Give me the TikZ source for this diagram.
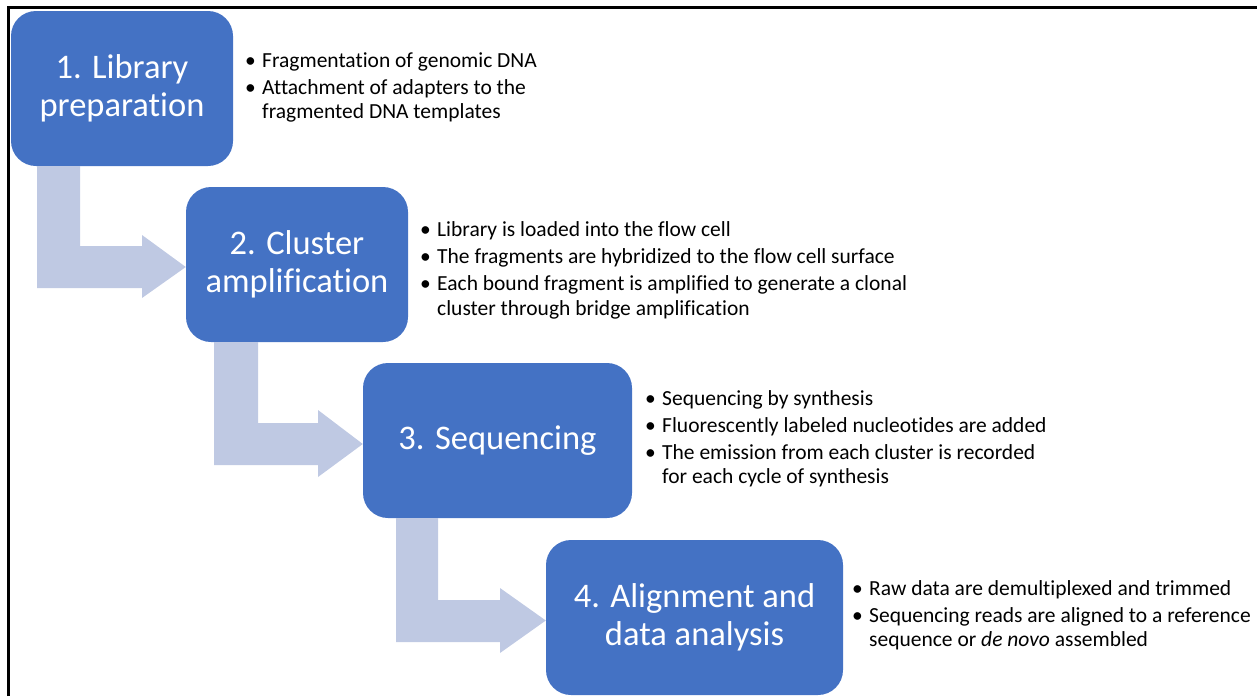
\documentclass[tikz,border=0pt]{standalone}
\usepackage{fontspec}
\setmainfont{Carlito}[Ligatures={NoCommon}]
\usetikzlibrary{calc}
\definecolor{boxblue}{RGB}{68,114,196}
\definecolor{arrowblue}{RGB}{191,201,227}
\newcommand{\bitem}[1]{\par\hangindent=17pt\hangafter=1\noindent\makebox[17pt][l]{\textbullet}#1\par}
\newcommand{\blist}[1]{\parbox[t]{600pt}{\setlength{\parskip}{2.5pt}\raggedright #1}}
\tikzset{
  stepbox/.style={fill=boxblue, rounded corners=25pt, minimum width=222pt, minimum height=155pt,
    text=white, font=\fontsize{34.5}{38}\selectfont, align=center, inner sep=0pt},
  bullets/.style={anchor=base west, inner sep=0pt, text=black, font=\fontsize{21.5}{24.5}\selectfont},
  bentarrow/.style={fill=arrowblue},
  frameline/.style={line width=2.7pt, black}
}
\begin{document}
\begin{tikzpicture}[x=1pt,y=-1pt]
\useasboundingbox (0,0) rectangle (1257,696);
\draw[frameline] (8.7,696) -- (8.7,7.8) -- (1257,7.8);

\node[stepbox] (b1) at (122,88.5) {1. Library\\preparation};
\node[stepbox] (b2) at (297,264.5) {2. Cluster\\amplification};
\node[stepbox, minimum width=269pt] (b3) at (497.5,440.5) {3. Sequencing};
\node[stepbox, minimum width=297pt] (b4) at (694.5,617.5) {4. Alignment and\\data analysis};

\fill[bentarrow] (37,0 |- b1.south) -- (80,0 |- b1.south) -- (80,246) -- (142,246) -- (142,235)
  -- (b2.west |- 0,267) -- (142,298) -- (142,288) -- (37,288) -- cycle;
\fill[bentarrow] (214,0 |- b2.south) -- (258,0 |- b2.south) -- (258,423) -- (318,423) -- (318,410)
  -- (b3.west |- 0,444) -- (318,477) -- (318,465) -- (214,465) -- cycle;
\fill[bentarrow] (396,0 |- b3.south) -- (438,0 |- b3.south) -- (438,600) -- (500,600) -- (500,588)
  -- (b4.west |- 0,620.5) -- (500,653) -- (500,642) -- (396,642) -- cycle;

\node[bullets] (t1) at (245,67) {\blist{%
  \bitem{Fragmentation of genomic DNA}
  \bitem{Attachment of adapters to the\newline fragmented DNA templates}}};
\node[bullets] (t2) at (420,236.7) {\blist{%
  \bitem{Library is loaded into the flow cell}
  \bitem{The fragments are hybridized to the flow cell surface}
  \bitem{Each bound fragment is amplified to generate a clonal\newline cluster through bridge amplification}}};
\node[bullets] (t3) at (645,405) {\blist{%
  \bitem{Sequencing by synthesis}
  \bitem{Fluorescently labeled nucleotides are added}
  \bitem{The emission from each cluster is recorded\newline for each cycle of synthesis}}};
\node[bullets] (t4) at (852,595) {\blist{%
  \bitem{Raw data are demultiplexed and trimmed}
  \bitem{Sequencing reads are aligned to a reference\newline sequence or \textit{de novo} assembled}}};
\end{tikzpicture}
\end{document}
